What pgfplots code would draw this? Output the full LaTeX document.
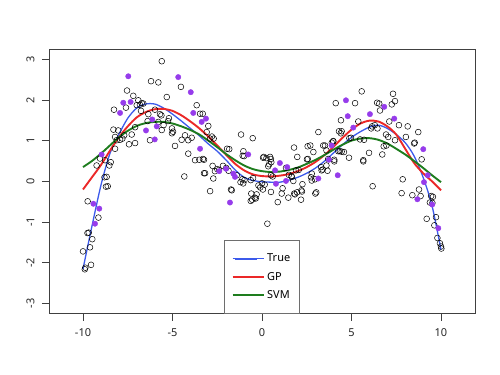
\documentclass[border=0pt]{standalone}
\usepackage{pgfplots}
\pgfplotsset{compat=1.18}
\usepackage{fontspec}
\setmainfont{Noto Sans}
\definecolor{ptpurple}{RGB}{150,60,235}
\definecolor{ltblue}{RGB}{60,90,235}
\definecolor{ltred}{RGB}{235,40,40}
\definecolor{ltgreen}{RGB}{30,125,30}
\definecolor{legframe}{RGB}{110,110,110}
\pgfplotstableread{
x y
-9.9 -2.16
-9.87 -2.12
-9.55 -2.05
-10.0 -1.72
-9.61 -1.62
-9.48 -1.42
-9.75 -1.27
-9.68 -1.26
-9.14 -0.89
-9.74 -0.49
-8.72 -0.13
-8.62 -0.12
-8.8 0.1
-8.68 0.11
-9.24 0.39
-9.05 0.56
-8.77 0.52
-8.53 0.39
-8.45 0.47
-8.3 1.27
-8.21 1.09
-8.12 1.01
-8.03 1.25
-8.21 0.8
-7.93 1.02
-8.27 1.76
-7.6 1.81
-7.54 2.23
-7.19 2.1
-6.91 1.99
-6.72 1.92
-7.0 1.87
-6.82 1.88
-6.63 1.91
-6.76 1.73
-6.35 1.65
-5.98 1.76
-5.7 1.65
-5.62 1.62
-5.2 1.55
-5.25 1.48
-6.39 1.48
-5.79 1.46
-5.5 1.38
-5.6 1.26
-5.03 1.3
-4.97 1.22
-5.03 1.18
-7.09 1.33
-7.7 1.13
-7.8 1.05
-7.28 1.15
-4.3 1.13
-4.49 1.02
-4.12 1.01
-3.93 1.07
-7.09 0.94
-7.43 0.91
-4.86 0.87
-6.26 1.01
-4.12 0.68
-3.74 0.52
-3.5 0.53
-3.3 0.55
-5.6 2.95
-6.2 2.46
-5.79 2.43
-4.53 2.32
-5.32 2.07
-3.65 1.87
-3.46 1.66
-3.31 1.66
-3.0 1.36
-3.09 1.21
-2.9 1.05
-2.7 1.05
-2.8 1.1
-1.17 1.15
-0.52 1.06
-1.83 0.79
-1.95 0.8
-1.04 0.74
-1.08 0.63
-1.0 0.62
-3.24 0.53
0.1 0.6
0.25 0.57
0.45 0.6
0.5 0.55
0.06 0.58
3.15 1.21
1.79 0.83
2.55 0.86
2.7 0.88
2.87 0.72
1.97 0.6
2.51 0.54
2.56 0.55
3.42 0.88
3.52 0.88
3.98 0.98
3.9 0.95
-3.24 0.2
-2.76 0.38
-2.63 0.25
-2.18 0.38
-2.0 0.33
-1.87 0.26
-2.72 0.07
-1.41 0.15
-1.1 0.05
-0.98 0.03
-0.63 0.03
-0.5 0.08
-0.2 -0.1
0.0 -0.05
-0.1 -0.15
0.15 -0.08
0.05 -0.2
-0.6 -0.3
-0.3 -0.32
-0.4 -0.4
-0.55 -0.45
-0.35 -0.42
-2.9 -0.24
-1.69 -0.22
-0.63 -0.48
0.5 -0.26
0.88 -0.51
1.1 -0.3
1.47 -0.4
1.8 -0.3
1.96 -0.27
2.2 -0.22
2.18 -0.45
3.03 -0.27
2.98 -0.3
0.3 -1.04
0.6 0.12
0.5 0.15
1.5 0.16
1.65 0.13
1.9 0.27
2.05 0.28
0.4 0.42
0.52 0.47
2.74 0.1
2.78 0.02
3.33 0.27
3.3 0.35
-4.34 0.12
-3.18 0.2
-2.5 0.3
-2.4 0.28
-1.73 -0.2
-1.2 -0.02
-1.05 -0.05
0.35 0.37
1.75 0.01
2.78 0.19
3.39 0.29
3.6 0.39
2.96 0.05
2.23 -0.25
1.84 -0.32
1.15 -0.17
1.34 0.33
1.66 0.11
2.26 -0.07
3.66 0.26
4.04 0.49
3.7 0.55
4.26 0.74
3.6 0.76
5.57 2.21
7.32 2.15
7.43 1.97
4.12 1.92
5.2 1.92
6.43 1.93
6.55 1.91
7.25 1.89
6.59 1.74
4.41 1.5
5.38 1.47
7.11 1.47
7.65 1.38
8.14 1.35
8.73 1.21
4.3 1.23
4.45 1.23
4.4 1.18
6.1 1.3
6.15 1.35
6.3 1.38
6.45 1.3
6.93 1.15
7.05 1.09
8.04 1.09
8.53 0.95
8.5 0.93
4.88 1.06
4.97 1.07
5.48 1.03
5.7 1.02
3.98 0.99
7.43 1.01
6.8 0.86
6.95 0.88
4.35 0.74
4.45 0.73
4.58 0.72
5.98 0.7
6.72 0.66
4.86 0.58
5.66 0.52
8.92 0.54
4.04 0.53
5.66 0.49
6.18 -0.12
7.86 0.05
7.8 -0.29
8.4 -0.34
8.77 -0.2
8.86 -0.36
9.45 -0.36
9.55 -0.38
9.38 -0.52
9.52 -0.53
9.2 -0.92
9.72 -0.88
9.63 -1.08
9.8 -1.39
9.94 -1.52
10.02 -1.65
10.0 -1.6
}\obs
\pgfplotstableread{
x y
-7.47 2.58
-4.68 2.56
-3.98 2.19
-7.75 1.93
-7.34 1.95
-7.93 1.68
-3.84 1.68
-6.13 1.52
-5.88 1.35
-6.48 1.25
-5.99 1.03
-3.46 0.8
-8.96 0.66
-3.37 1.46
-3.13 1.54
-0.77 0.66
-2.39 0.25
-2.01 0.31
-1.6 0.19
-1.51 0.11
-1.79 -0.52
-9.42 -0.55
-9.09 -0.67
-9.33 -1.04
1.0 0.45
0.78 -0.06
0.73 0.27
1.41 0.35
1.34 0.01
3.15 0.07
4.69 1.99
4.79 1.6
6.83 1.83
6.03 1.65
7.39 1.54
5.1 1.32
3.89 0.88
9.01 0.79
3.74 0.53
4.23 0.15
9.26 0.15
9.05 -0.02
8.68 -0.44
9.51 -0.57
9.85 -1.15
}\sel
\pgfplotstableread{
x true gp svm
-10 -2.15 -0.2 0.35
-9.5 -1.1 0.1 0.5
-9 -0.1 0.4 0.68
-8.5 0.68 0.75 0.88
-8 1.15 1.08 1.08
-7.5 1.55 1.35 1.24
-7 1.8 1.57 1.36
-6.5 1.9 1.7 1.43
-6 1.9 1.77 1.46
-5.5 1.8 1.78 1.46
-5 1.65 1.73 1.42
-4.5 1.48 1.62 1.35
-4 1.3 1.47 1.26
-3.5 1.12 1.3 1.15
-3 0.92 1.1 1.0
-2.5 0.74 0.88 0.84
-2 0.52 0.65 0.67
-1.5 0.28 0.43 0.52
-1 0.1 0.27 0.39
-0.5 0.02 0.17 0.3
0 -0.01 0.13 0.25
0.5 -0.02 0.12 0.23
1 -0.02 0.14 0.24
1.5 0.03 0.18 0.28
2 0.1 0.25 0.34
2.5 0.2 0.35 0.43
3 0.33 0.48 0.53
3.5 0.5 0.65 0.65
4 0.7 0.85 0.78
4.5 0.9 1.07 0.9
5 1.08 1.27 1.0
5.5 1.22 1.42 1.05
6 1.33 1.49 1.06
6.5 1.38 1.47 1.02
7 1.3 1.35 0.93
7.5 1.15 1.15 0.8
8 0.95 0.8 0.66
8.5 0.62 0.45 0.5
9 0.1 0.2 0.33
9.5 -0.6 0.0 0.15
10 -1.68 -0.22 -0.02
}\fits
\begin{document}
\begin{tikzpicture}
\useasboundingbox (-49bp,-61.3bp) rectangle (451bp,313.7bp);
\begin{axis}[
  scale only axis, width=426bp, height=264.7bp,
  at={(0,0)}, anchor=south west,
  xmin=-11.9, xmax=11.9, ymin=-3.25, ymax=3.25,
  xtick={-10,-5,0,5,10}, xticklabels={-10,-5,0,5,10},
  ytick={-3,-2,-1,0,1,2,3}, yticklabels={-3,-2,-1,0,1,2,3},
  tick align=outside, tick pos=left, major tick length=7bp,
  axis line style={black!75, line width=0.8pt},
  every tick/.style={black!75, line width=0.8pt},
  ticklabel style={font=\fontsize{11}{13}\selectfont, text=black!85},
  yticklabel style={rotate=90, anchor=south},
  yticklabel shift=4bp, xticklabel shift=4bp,
  legend cell align=left,
  legend image code/.code={\path (-2.7bp,0bp) -- (29bp,0bp);
    \draw[#1, line width=1.8pt] plot coordinates {(0bp,0bp) (22bp,0bp)};},
  legend style={at={(0.4115,0)}, anchor=south west, draw=legframe, line width=0.6pt,
    font=\fontsize{11}{13}\selectfont,
    inner xsep=7bp, inner ysep=11.7bp, row sep=4.8bp},
]
\addplot[only marks, mark=o, mark size=2.9bp, black, mark options={line width=0.5pt}, forget plot] table[x=x,y=y] {\obs};
\addplot[only marks, mark=*, mark size=2.7bp, ptpurple, draw=none, mark options={draw=none}, forget plot] table[x=x,y=y] {\sel};
\addplot[ltblue, line width=1.3pt, smooth] table[x=x,y=true] {\fits};
\addlegendentry{True}
\addplot[ltred, line width=1.9pt, smooth] table[x=x,y=gp] {\fits};
\addlegendentry{GP}
\addplot[ltgreen, line width=1.9pt, smooth] table[x=x,y=svm] {\fits};
\addlegendentry{SVM}
\end{axis}
\end{tikzpicture}
\end{document}
